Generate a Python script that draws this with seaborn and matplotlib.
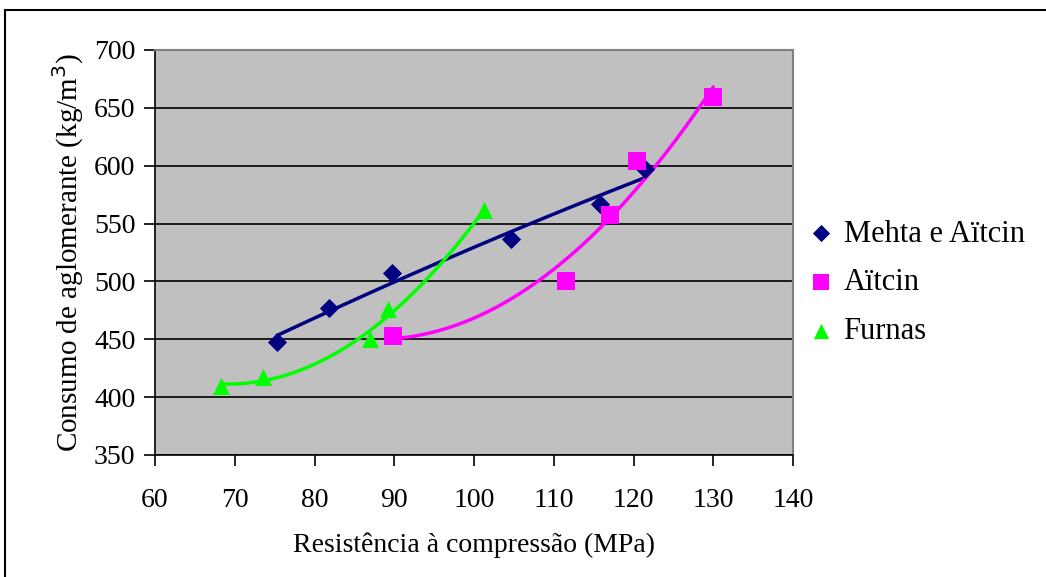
import numpy as np
import pandas as pd
import matplotlib
matplotlib.use("Agg")
import matplotlib.pyplot as plt
import seaborn as sns
from matplotlib.patches import Rectangle

# Data
mehta_x = [75.3, 81.8, 89.7, 104.6, 115.8, 121.5]
mehta_y = [448, 477, 507, 537, 567, 597]
aitcin_x = [89.9, 111.5, 117.0, 120.5, 130.0]
aitcin_y = [453, 500, 557, 604, 659]
furnas_x = [68.3, 73.6, 86.9, 89.2, 101.3]
furnas_y = [410, 417, 450, 476, 562]

series_names = ["Mehta e Aïtcin", "Aïtcin", "Furnas"]
colors = ["#000080", "#FF00FF", "#00FF00"]
markers = ["D", "s", "^"]
msizes = [95, 150, 150]

sns.set_theme(style="white")
plt.rcParams['font.family'] = ['Liberation Serif', 'DejaVu Serif']
plt.rcParams['text.color'] = 'black'
plt.rcParams['axes.labelcolor'] = 'black'
plt.rcParams['xtick.color'] = 'black'
plt.rcParams['ytick.color'] = 'black'

fig = plt.figure(figsize=(10.46, 5.77), dpi=100)
ax = fig.add_axes([155/1046, 1-455/577, (793-155)/1046, (455-50)/577])
ax.set_facecolor("#C0C0C0")

datasets = [(mehta_x, mehta_y), (aitcin_x, aitcin_y), (furnas_x, furnas_y)]
for (xs, ys), name, c, m, s in zip(datasets, series_names, colors, markers, msizes):
    df = pd.DataFrame({"x": xs, "y": ys})
    coef = np.polyfit(xs, ys, 2)
    xx = np.linspace(min(xs), max(xs), 200)
    trend = pd.DataFrame({"x": xx, "y": np.polyval(coef, xx)})
    sns.lineplot(data=trend, x="x", y="y", color=c, lw=2.5, ax=ax, legend=False, zorder=3)
    sns.scatterplot(data=df, x="x", y="y", color=c, marker=m, s=s, edgecolor=c,
                    linewidth=0, ax=ax, label=name, zorder=4)

ax.set_xlim(60, 140)
ax.set_ylim(350, 700)
ax.set_xticks(np.arange(60, 141, 10))
ax.set_yticks(np.arange(350, 701, 50))
ax.yaxis.grid(True, color="black", lw=1.2)
ax.xaxis.grid(False)
ax.set_axisbelow(True)
for side in ["top", "right"]:
    ax.spines[side].set_color("#808080")
    ax.spines[side].set_linewidth(1.5)
for side in ["left", "bottom"]:
    ax.spines[side].set_color("black")
    ax.spines[side].set_linewidth(1.2)
ax.tick_params(axis="both", direction="out", length=8, width=1.2, color="black",
               labelsize=20, bottom=True, left=True)
ax.tick_params(axis="x", pad=16)
ax.tick_params(axis="y", pad=6)
ax.set_xlabel("Resistência à compressão (MPa)", fontsize=20, labelpad=14)
ax.set_ylabel("Consumo de aglomerante (kg/m$^3$)", fontsize=21, labelpad=6)

leg = ax.legend(loc="center left", bbox_to_anchor=(1.005, 0.425), frameon=False,
                fontsize=22, handlelength=0.8, handletextpad=0.35, labelspacing=0.65,
                markerscale=0.9, borderaxespad=0)

fig.patches.append(Rectangle((5/1046, -0.1), 1.2, 1 - 10/577 + 0.1, transform=fig.transFigure,
                             fill=False, edgecolor="black", lw=1.5))

fig.savefig("out.png", dpi=100)
